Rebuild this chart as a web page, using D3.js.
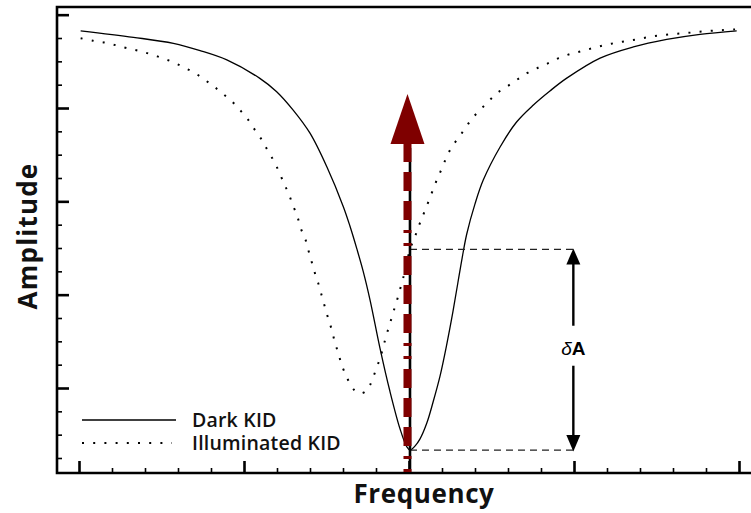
<!DOCTYPE html>
<html>
<head>
<meta charset="utf-8">
<script src="https://cdn.jsdelivr.net/npm/d3@7"></script>
<style>
  html, body { margin: 0; padding: 0; background: #fff; }
  svg { display: block; }
</style>
</head>
<body>
<svg id="chart" width="751" height="513"></svg>
<script>
// Resonance dips of a kinetic inductance detector (arbitrary units).
const darkFreq = [0.05, 1.65, 2.86, 3.67, 4.48, 5.48, 5.99, 6.49, 7.00, 7.51, 8.01, 8.21, 8.42, 8.61, 8.82, 9.12, 9.42, 9.73, 9.93, 10.03,
  10.18, 10.33, 10.54, 10.73, 10.94, 11.14, 11.33, 11.48, 11.61, 11.75, 12.00, 12.25, 12.76, 13.26, 13.77, 14.27, 14.78, 15.79, 16.80, 17.81, 18.82, 19.93];
const darkAmp = [15.31, 15.03, 14.77, 14.46, 14.06, 13.27, 12.70, 11.91, 10.92, 9.48, 7.77, 6.94, 5.96, 5.01, 3.77, 1.71, -0.13, -1.76, -2.51, -2.66,
  -2.49, -2.19, -1.50, -0.60, 0.51, 1.84, 3.26, 4.50, 5.57, 6.60, 7.89, 8.91, 10.33, 11.40, 12.13, 12.73, 13.28, 14.14, 14.62, 14.94, 15.16, 15.31];

const illumFreq = [0.05, 0.43, 0.79, 1.12, 1.45, 1.83, 2.17, 2.52, 2.86, 3.18, 3.52, 3.82, 4.10, 4.37, 4.65, 4.90, 5.13, 5.33, 5.54, 5.71,
  5.89, 6.06, 6.21, 6.35, 6.48, 6.62, 6.72, 6.85, 6.95, 7.05, 7.15, 7.25, 7.35, 7.45, 7.55, 7.66, 7.76, 7.86, 7.96, 8.11,
  8.26, 8.39, 8.55, 8.70, 8.82, 8.94, 9.07, 9.17, 9.27, 9.37, 9.48, 9.58, 9.68, 9.78, 9.88, 10.03, 10.18, 10.33, 10.48, 10.69,
  10.84, 10.99, 11.14, 11.29, 11.49, 11.70, 11.90, 12.15, 12.40, 12.66, 12.96, 13.26, 13.57, 13.87, 14.22, 14.52, 14.88, 15.23, 15.58, 15.94,
  16.29, 16.65, 17.00, 17.35, 17.71, 18.09, 18.45, 18.80, 19.17, 19.52, 19.88];
const illumAmp = [14.99, 14.88, 14.80, 14.69, 14.57, 14.44, 14.31, 14.14, 13.96, 13.74, 13.49, 13.20, 12.91, 12.60, 12.26, 11.88, 11.49, 11.06, 10.63, 10.20,
  9.77, 9.27, 8.77, 8.34, 7.84, 7.34, 6.84, 6.42, 5.91, 5.41, 4.92, 4.49, 3.99, 3.48, 2.99, 2.49, 1.92, 1.49, 0.99, 0.48,
  0.06, -0.15, -0.23, -0.13, 0.13, 0.56, 1.06, 1.49, 2.03, 2.52, 3.03, 3.51, 3.97, 4.50, 5.01, 5.94, 6.48, 7.07, 7.59, 8.36,
  8.91, 9.39, 9.90, 10.31, 10.71, 11.12, 11.53, 11.91, 12.27, 12.63, 12.91, 13.20, 13.49, 13.70, 13.92, 14.13, 14.31, 14.44, 14.57, 14.70,
  14.80, 14.88, 14.97, 15.06, 15.13, 15.18, 15.22, 15.27, 15.31, 15.34, 15.37];

const seriesNames = ["Dark KID", "Illuminated KID"];
const axisTitles = { x: "Frequency", y: "Amplitude" };

// Readout tone and the amplitude change it sees.
const probeFreq = 10.03;
const ampDark = -2.66;
const ampIllum = 5.94;
const probeArrowTip = 12.6;
const deltaFreq = 14.98;
const deltaLabel = ["δ", "A"];

// Tick grid (minor units; every 5th / 4th is a major tick).
const xTicks = d3.range(0, 21);
const yTicks = d3.range(-3, 17);

const svg = d3.select("#chart");
const x = d3.scaleLinear().domain([-2 / 3, 20 + 2 / 3]).range([57, 761]);
const y = d3.scaleLinear().domain([-3.643, 16.329]).range([473, 7]);

const darkData = darkFreq.map((f, i) => [f, darkAmp[i]]);
const illumData = illumFreq.map((f, i) => [f, illumAmp[i]]);

const line = d3.line()
  .x(d => x(d[0]))
  .y(d => y(d[1]))
  .curve(d3.curveCatmullRom.alpha(0.5));

// Axes: inward ticks only, no labels
function tickAxis(axisFn, scale, values, size, width, transform) {
  const g = svg.append("g").attr("transform", transform)
    .call(axisFn(scale).tickValues(values).tickSize(size).tickSizeOuter(0).tickFormat(""));
  g.select(".domain").remove();
  g.selectAll(".tick line").attr("stroke", "#000").attr("stroke-width", width);
  return g;
}
tickAxis(d3.axisTop, x, xTicks.filter(v => v % 5 !== 0), 5, 1.6, "translate(0,473)");
tickAxis(d3.axisTop, x, xTicks.filter(v => v % 5 === 0), 12, 2.6, "translate(0,473)");
tickAxis(d3.axisRight, y, yTicks.filter(v => v % 4 !== 0), 5, 1.6, "translate(57,0)");
tickAxis(d3.axisRight, y, yTicks.filter(v => v % 4 === 0), 12, 2.6, "translate(57,0)");

// Frame (left, top, bottom)
svg.append("path")
  .attr("d", `M751,${y.range()[1]} H${x.range()[0]} V${y.range()[0]} H751`)
  .attr("fill", "none").attr("stroke", "#000").attr("stroke-width", 2.6);

// Curves
svg.append("path").datum(darkData)
  .attr("d", line).attr("fill", "none")
  .attr("stroke", "#000").attr("stroke-width", 1.3);
svg.append("path").datum(illumData)
  .attr("d", line).attr("fill", "none")
  .attr("stroke", "#000").attr("stroke-width", 2)
  .attr("stroke-dasharray", "2,9.2");

// δA guides
const px = x(probeFreq), pd = x(deltaFreq);
[ampIllum, ampDark].forEach(a => {
  svg.append("line")
    .attr("x1", px).attr("x2", pd)
    .attr("y1", y(a)).attr("y2", y(a))
    .attr("stroke", "#222").attr("stroke-width", 1.3)
    .attr("stroke-dasharray", "7,5");
});

// Double-headed δA arrow
const labelY = (y(ampIllum) + y(ampDark)) / 2;
const headL = 15, headW = 7;
svg.append("line").attr("x1", pd).attr("x2", pd)
  .attr("y1", y(ampIllum) + headL - 1).attr("y2", labelY - 24)
  .attr("stroke", "#000").attr("stroke-width", 2.4);
svg.append("line").attr("x1", pd).attr("x2", pd)
  .attr("y1", labelY + 16).attr("y2", y(ampDark) - headL + 1)
  .attr("stroke", "#000").attr("stroke-width", 2.4);
svg.append("path")
  .attr("d", `M${pd},${y(ampIllum) - 1} L${pd - headW},${y(ampIllum) + headL} L${pd + headW},${y(ampIllum) + headL} Z`)
  .attr("fill", "#000");
svg.append("path")
  .attr("d", `M${pd},${y(ampDark) + 1.5} L${pd - headW},${y(ampDark) - headL} L${pd + headW},${y(ampDark) - headL} Z`)
  .attr("fill", "#000");
const dl = svg.append("text")
  .attr("x", pd).attr("y", labelY + 5)
  .attr("text-anchor", "middle")
  .attr("font-family", "Liberation Sans, Arial, sans-serif")
  .attr("font-size", 19).attr("fill", "#000");
dl.append("tspan").attr("font-style", "italic").text(deltaLabel[0]);
dl.append("tspan").attr("font-weight", "bold").text(deltaLabel[1]);

// Probe tone marker
const arrowBase = y(probeArrowTip) + 50;
svg.append("line")
  .attr("x1", px).attr("x2", px)
  .attr("y1", y.range()[0]).attr("y2", arrowBase + 4)
  .attr("stroke", "#000").attr("stroke-width", 2.6);
svg.append("line")
  .attr("x1", px - 2.5).attr("x2", px - 2.5)
  .attr("y1", arrowBase - 1).attr("y2", y.range()[0] + 2)
  .attr("stroke", "#7f0000").attr("stroke-width", 8)
  .attr("stroke-dasharray", "19,10,19,10,19,10,3,10,3,10");
svg.append("path")
  .attr("d", `M${px - 2.5},${y(probeArrowTip)} L${px - 19.5},${arrowBase} L${px + 14.5},${arrowBase} Z`)
  .attr("fill", "#7f0000");

// Legend
const legend = svg.append("g");
legend.append("line").attr("x1", 82).attr("x2", 176).attr("y1", 420).attr("y2", 420)
  .attr("stroke", "#000").attr("stroke-width", 1.4);
legend.append("line").attr("x1", 82).attr("x2", 172).attr("y1", 443).attr("y2", 443)
  .attr("stroke", "#000").attr("stroke-width", 2).attr("stroke-dasharray", "2,9.2");
legend.selectAll("text.leg").data(seriesNames).join("text")
  .attr("class", "leg")
  .attr("x", 192).attr("y", (d, i) => 427 + i * 23)
  .attr("font-family", "Open Sans, sans-serif")
  .attr("font-size", 19.5).attr("font-weight", 600)
  .attr("letter-spacing", 0.2)
  .attr("fill", "#111")
  .text(d => d);

// Axis titles
svg.append("text")
  .attr("x", 424).attr("y", 503)
  .attr("text-anchor", "middle")
  .attr("font-family", "Open Sans, sans-serif")
  .attr("font-size", 26).attr("font-weight", 700)
  .attr("letter-spacing", 0.6)
  .attr("fill", "#111")
  .text(axisTitles.x);
svg.append("text")
  .attr("transform", "translate(37,236) rotate(-90)")
  .attr("text-anchor", "middle")
  .attr("font-family", "Open Sans, sans-serif")
  .attr("font-size", 26).attr("font-weight", 700)
  .attr("letter-spacing", 1.2)
  .attr("fill", "#111")
  .text(axisTitles.y);
</script>
</body>
</html>
